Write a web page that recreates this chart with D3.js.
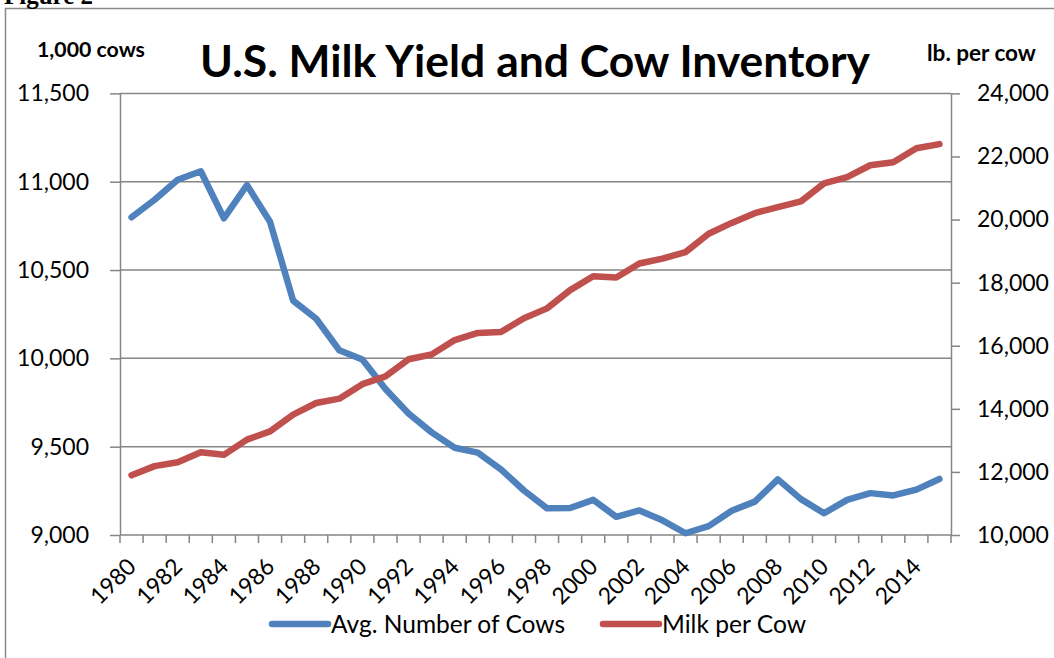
<!DOCTYPE html>
<html>
<head>
<meta charset="utf-8">
<script src="https://cdn.jsdelivr.net/npm/d3@7"></script>
<style>
  html, body { margin: 0; padding: 0; background: #fff; }
  svg { display: block; font-family: Lato, "Open Sans", sans-serif; }
</style>
</head>
<body>
<svg id="chart" width="1054" height="658"></svg>
<script>
// Years on the category axis
const years = [1980, 1981, 1982, 1983, 1984, 1985, 1986, 1987, 1988, 1989,
               1990, 1991, 1992, 1993, 1994, 1995, 1996, 1997, 1998, 1999,
               2000, 2001, 2002, 2003, 2004, 2005, 2006, 2007, 2008, 2009,
               2010, 2011, 2012, 2013, 2014, 2015];

// Average number of milk cows, 1,000 head (left axis)
const cows = [10799, 10898, 11011, 11059, 10793, 10981, 10773, 10327, 10224, 10046,
              9993, 9826, 9688, 9581, 9494, 9466, 9372, 9252, 9151, 9153,
              9199, 9103, 9139, 9083, 9010, 9050, 9137, 9189, 9315, 9203,
              9123, 9199, 9237, 9224, 9257, 9317];

// Milk per cow, lb. (right axis)
const milkPerCow = [11891, 12183, 12306, 12622, 12541, 13024, 13285, 13819, 14185, 14323,
                    14782, 15031, 15570, 15722, 16179, 16405, 16433, 16871, 17185, 17763,
                    18201, 18162, 18608, 18760, 18968, 19550, 19895, 20204, 20396, 20576,
                    21149, 21345, 21722, 21816, 22259, 22393];

// Axis ticks
const leftTicks = [9000, 9500, 10000, 10500, 11000, 11500];
const rightTicks = [10000, 12000, 14000, 16000, 18000, 20000, 22000, 24000];
const labeledYears = [1980, 1982, 1984, 1986, 1988, 1990, 1992, 1994, 1996, 1998,
                      2000, 2002, 2004, 2006, 2008, 2010, 2012, 2014];

const seriesNames = ["Avg. Number of Cows", "Milk per Cow"];
const seriesColors = ["#4F81BD", "#C0504D"];

const svg = d3.select("#chart");
const axisGray = "#868686";
const fmt = d3.format(",");

const plot = { left: 120, right: 951, top: 93.4, bottom: 535 };

const x = d3.scaleBand().domain(years).range([plot.left, plot.right]).padding(0);
const cx = d => x(d) + x.bandwidth() / 2;
const yL = d3.scaleLinear().domain([9000, 11500]).range([plot.bottom, plot.top]);
const yR = d3.scaleLinear().domain([10000, 24000]).range([plot.bottom, plot.top]);

// Outer frame (left and top edges)
svg.append("path")
  .attr("d", "M5.5,658 L5.5,8.5 L1054,8.5")
  .attr("fill", "none").attr("stroke", "#8a8a8a").attr("stroke-width", 1.5);

// Figure number, clipped at the top edge of the page
svg.append("text")
  .attr("x", 4).attr("y", 4)
  .attr("font-family", "'Liberation Serif', 'DejaVu Serif', serif")
  .attr("font-weight", "bold").attr("font-size", 25)
  .text("Figure 2");

// Horizontal gridlines
svg.append("g").selectAll("line").data(leftTicks).join("line")
  .attr("x1", plot.left).attr("x2", plot.right)
  .attr("y1", d => yL(d)).attr("y2", d => yL(d))
  .attr("stroke", axisGray).attr("stroke-width", 1.5);

// Left axis
const gL = svg.append("g").attr("transform", `translate(${plot.left},0)`)
  .call(d3.axisLeft(yL).tickValues(leftTicks).tickFormat(fmt)
    .tickSizeInner(10).tickSizeOuter(0).tickPadding(21));

// Right axis
const gR = svg.append("g").attr("transform", `translate(${plot.right},0)`)
  .call(d3.axisRight(yR).tickValues(rightTicks).tickFormat(fmt)
    .tickSizeInner(9).tickSizeOuter(0).tickPadding(17));

[gL, gR].forEach(g => {
  g.select(".domain").attr("stroke", axisGray).attr("stroke-width", 1.5);
  g.selectAll(".tick line").attr("stroke", axisGray).attr("stroke-width", 1.5);
  g.selectAll(".tick text")
    .attr("font-family", "Lato, 'Open Sans', sans-serif")
    .attr("font-size", 23).attr("fill", "#000");
});

// Bottom axis: tick marks between categories
const boundaries = years.map(d => x(d)).concat([plot.right]);
svg.append("g").selectAll("line").data(boundaries).join("line")
  .attr("x1", d => d).attr("x2", d => d)
  .attr("y1", plot.bottom).attr("y2", plot.bottom + 8)
  .attr("stroke", axisGray).attr("stroke-width", 1.5);

// Rotated year labels
svg.append("g").selectAll("text").data(labeledYears).join("text")
  .attr("transform", d => `translate(${cx(d) + 6},${plot.bottom + 33}) rotate(-45)`)
  .attr("text-anchor", "end")
  .attr("font-size", 23).attr("fill", "#000")
  .text(d => d);

// Series lines
const lineL = d3.line().x((d, i) => cx(years[i])).y(d => yL(d));
const lineR = d3.line().x((d, i) => cx(years[i])).y(d => yR(d));

svg.append("path").datum(cows)
  .attr("d", lineL)
  .attr("fill", "none").attr("stroke", seriesColors[0]).attr("stroke-width", 6.5)
  .attr("stroke-linejoin", "round").attr("stroke-linecap", "round");

svg.append("path").datum(milkPerCow)
  .attr("d", lineR)
  .attr("fill", "none").attr("stroke", seriesColors[1]).attr("stroke-width", 6.5)
  .attr("stroke-linejoin", "round").attr("stroke-linecap", "round");

// Fit a text element to a target width by scaling its font size
function fitWidth(sel, w) {
  const len = sel.node().getComputedTextLength();
  const fs = parseFloat(sel.attr("font-size"));
  sel.attr("font-size", (fs * w / len).toFixed(2));
  return sel;
}

// Title and axis unit labels
fitWidth(svg.append("text")
  .attr("x", 200).attr("y", 77)
  .attr("font-weight", "bold").attr("font-size", 44).attr("fill", "#000")
  .text("U.S. Milk Yield and Cow Inventory"), 670);

fitWidth(svg.append("text")
  .attr("x", 37).attr("y", 57)
  .attr("font-weight", "bold").attr("font-size", 19).attr("fill", "#000")
  .text("1,000 cows"), 108);

fitWidth(svg.append("text")
  .attr("x", 927).attr("y", 61)
  .attr("font-weight", "bold").attr("font-size", 19).attr("fill", "#000")
  .text("lb. per cow"), 109);

// Legend
const legendItems = [
  { name: seriesNames[0], color: seriesColors[0], x0: 272, x1: 328, tx: 331, w: 234 },
  { name: seriesNames[1], color: seriesColors[1], x0: 603, x1: 659, tx: 662, w: 144 }
];
const legendY = 624;
legendItems.forEach(it => {
  svg.append("line")
    .attr("x1", it.x0).attr("x2", it.x1).attr("y1", legendY).attr("y2", legendY)
    .attr("stroke", it.color).attr("stroke-width", 6.5).attr("stroke-linecap", "round");
  fitWidth(svg.append("text")
    .attr("x", it.tx).attr("y", legendY).attr("dy", "0.36em")
    .attr("font-size", 22).attr("fill", "#000")
    .text(it.name), it.w);
});
</script>
</body>
</html>
